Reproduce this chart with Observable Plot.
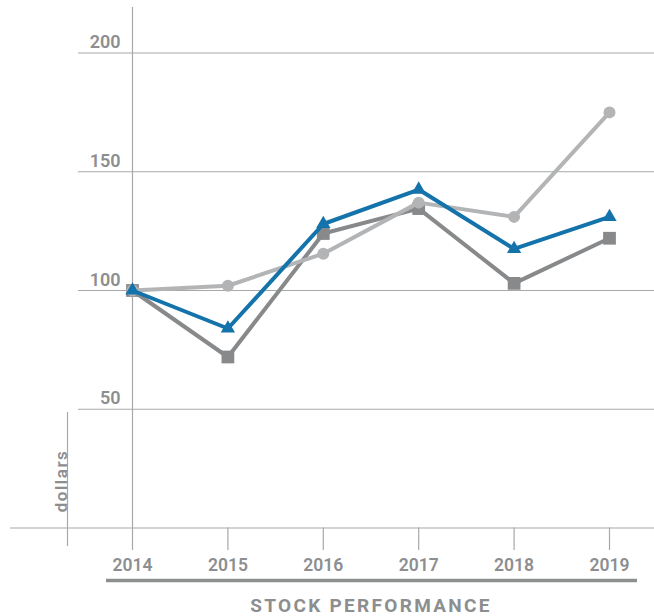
<!DOCTYPE html>
<html><head><meta charset="utf-8">
<script src="https://cdn.jsdelivr.net/npm/d3@7"></script>
<script src="https://cdn.jsdelivr.net/npm/@observablehq/plot@0.6"></script>
<style>body{margin:0;background:#fff}</style>
</head><body><div id="chart"></div>
<script>
const years = [2014, 2015, 2016, 2017, 2018, 2019];
const squareSeries = [100, 72, 124, 134.5, 103, 122];
const circleSeries = [100, 102, 115.5, 137, 131, 175];
const triangleSeries = [100, 84, 128, 142.5, 117.5, 131];
const gridValues = [50, 100, 150, 200];
const yTickLabels = [50, 100, 150, 200];
const yAxisLabel = "dollars";
const title = "STOCK PERFORMANCE";

const textColor = "#8c8e90";
const gridColor = "#a6a8aa";
const font = "Roboto, 'Noto Sans', sans-serif";

const series = [
  {values: squareSeries, color: "#87898b", symbol: "square", r: 7.2},
  {values: circleSeries, color: "#b2b4b6", symbol: "circle", r: 6},
  {values: triangleSeries, color: "#1473aa", symbol: "triangle", r: 5.3}
];

const seriesMarks = series.flatMap(s => {
  const rows = years.map((year, i) => ({year, value: s.values[i]}));
  return [
    Plot.line(rows, {x: "year", y: "value", stroke: s.color, strokeWidth: 4, strokeLinejoin: "round"}),
    Plot.dot(rows, {x: "year", y: "value", symbol: () => s.symbol, fill: s.color, r: s.r})
  ];
});

const chart = Plot.plot({
  width: 654,
  height: 616,
  marginLeft: 132,
  marginRight: 45,
  marginTop: 52.5,
  marginBottom: 88.5,
  style: {fontFamily: font, background: "#fff", overflow: "visible"},
  x: {domain: [2014, 2019], axis: null},
  y: {domain: [0, 200], axis: null},
  symbol: {type: "identity"},
  marks: [
    Plot.ruleY(gridValues, {stroke: gridColor, strokeWidth: 1.2, insetLeft: -54, insetRight: -45}),
    Plot.ruleY([0], {stroke: gridColor, strokeWidth: 1.2, insetLeft: -122, insetRight: -45}),
    Plot.ruleX([years[0]], {stroke: gridColor, strokeWidth: 1.2, insetTop: -45.5, insetBottom: -22.5}),
    Plot.ruleX(years.slice(1), {stroke: gridColor, strokeWidth: 1.2, insetTop: 475, insetBottom: -22.5}),
    Plot.ruleX([years[0]], {stroke: gridColor, strokeWidth: 1.2, dx: -65, insetTop: 359.5, insetBottom: -18.5}),
    Plot.text(yTickLabels, {y: d => d, text: d => String(d), frameAnchor: "left", textAnchor: "end", lineAnchor: "bottom", dx: -12, dy: -5, fontSize: 18, fontWeight: 600, fill: textColor}),
    Plot.text(years, {x: d => d, text: d => String(d), frameAnchor: "bottom", lineAnchor: "top", dy: 30.5, fontSize: 17.5, fontWeight: 600, fill: textColor}),
    Plot.text([yAxisLabel], {frameAnchor: "bottom-left", rotate: -90, dx: -66, dy: -47, lineAnchor: "bottom", textAnchor: "middle", fontSize: 17, fontWeight: 600, fill: textColor}),
    Plot.ruleY([0], {dy: 52.5, insetLeft: -26, insetRight: -28, strokeWidth: 3.5, stroke: textColor}),
    Plot.text([title], {frameAnchor: "bottom", dy: 77.5, lineAnchor: "middle", fontSize: 19, fontWeight: 700, fill: textColor}),
    ...seriesMarks
  ]
});

d3.select(chart).selectAll("text").filter(function() { return this.textContent === title; })
  .style("letter-spacing", "2.3px");
d3.select(chart).selectAll("text").filter(function() { return this.textContent === yAxisLabel; })
  .style("letter-spacing", "1.5px");

document.getElementById("chart").appendChild(chart);
</script>
</body></html>
